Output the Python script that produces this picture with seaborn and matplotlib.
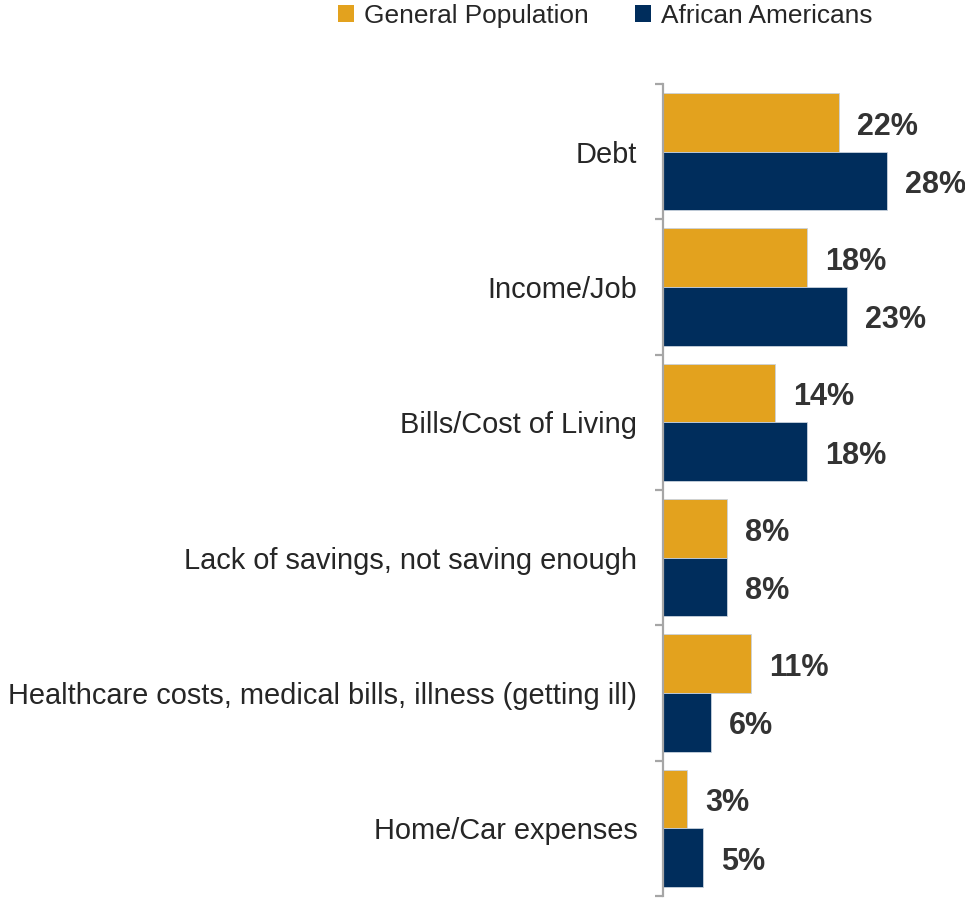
import matplotlib
matplotlib.use("Agg")
import matplotlib.pyplot as plt
import seaborn as sns
import pandas as pd
from matplotlib.patches import Patch

categories = [
    "Debt",
    "Income/Job",
    "Bills/Cost of Living",
    "Lack of savings, not saving enough",
    "Healthcare costs, medical bills, illness (getting ill)",
    "Home/Car expenses",
]
general_population = [22, 18, 14, 8, 11, 3]
african_americans = [28, 23, 18, 8, 6, 5]
series_names = ["General Population", "African Americans"]
colors = ["#E3A21E", "#002D5C"]

df = pd.DataFrame({
    "category": categories * 2,
    "value": general_population + african_americans,
    "group": [series_names[0]] * len(categories) + [series_names[1]] * len(categories),
})

sns.set_theme(style="white")
plt.rcParams["font.family"] = ["Liberation Sans", "DejaVu Sans"]

fig = plt.figure(figsize=(9.65, 8.99), dpi=100)
ax = fig.add_axes([663 / 965, 1 - 896 / 899, 302 / 965, (896 - 84) / 899])

sns.barplot(
    data=df, y="category", x="value", hue="group", order=categories,
    hue_order=series_names, palette=colors, orient="h", width=0.865,
    saturation=1, legend=False, ax=ax, edgecolor="#C9D2DE", linewidth=0.6,
)

ax.set_xlim(0, 37.75)
ax.set_ylim(len(categories) - 0.5, -0.5)
ax.set_xlabel("")
ax.set_ylabel("")
ax.set_xticks([])

for side in ["top", "right", "bottom"]:
    ax.spines[side].set_visible(False)
ax.spines["left"].set_color("#A6A6A6")
ax.spines["left"].set_linewidth(1.6)

# category labels at group centres, tick marks at group boundaries
ax.set_yticks(range(len(categories)))
ax.set_yticklabels(categories, fontsize=20.9, color="#262626")
ax.tick_params(axis="y", which="major", length=0, pad=18.5)
ax.set_yticks([i - 0.5 for i in range(len(categories) + 1)], minor=True)
ax.tick_params(axis="y", which="minor", length=6, width=1.6, color="#A6A6A6", left=True)

# value labels to the right of each bar
for container in ax.containers:
    for bar, v in zip(container.patches, container.datavalues):
        ax.annotate(f"{v:.0f}%", xy=(bar.get_x() + bar.get_width(), bar.get_y() + bar.get_height() / 2),
                    xytext=(13, -3), textcoords="offset points", ha="left", va="center",
                    fontsize=22, fontweight="bold", color="#333333")

handles = [Patch(facecolor=c, edgecolor="none") for c in colors]
fig.legend(handles, series_names, loc="center", bbox_to_anchor=(605 / 965, 1 - 16 / 899),
           ncol=2, frameon=False, fontsize=18.9, handlelength=0.6, handleheight=0.6,
           handletextpad=0.38, columnspacing=1.78, labelcolor="#262626")

fig.savefig("out.png", dpi=100)
